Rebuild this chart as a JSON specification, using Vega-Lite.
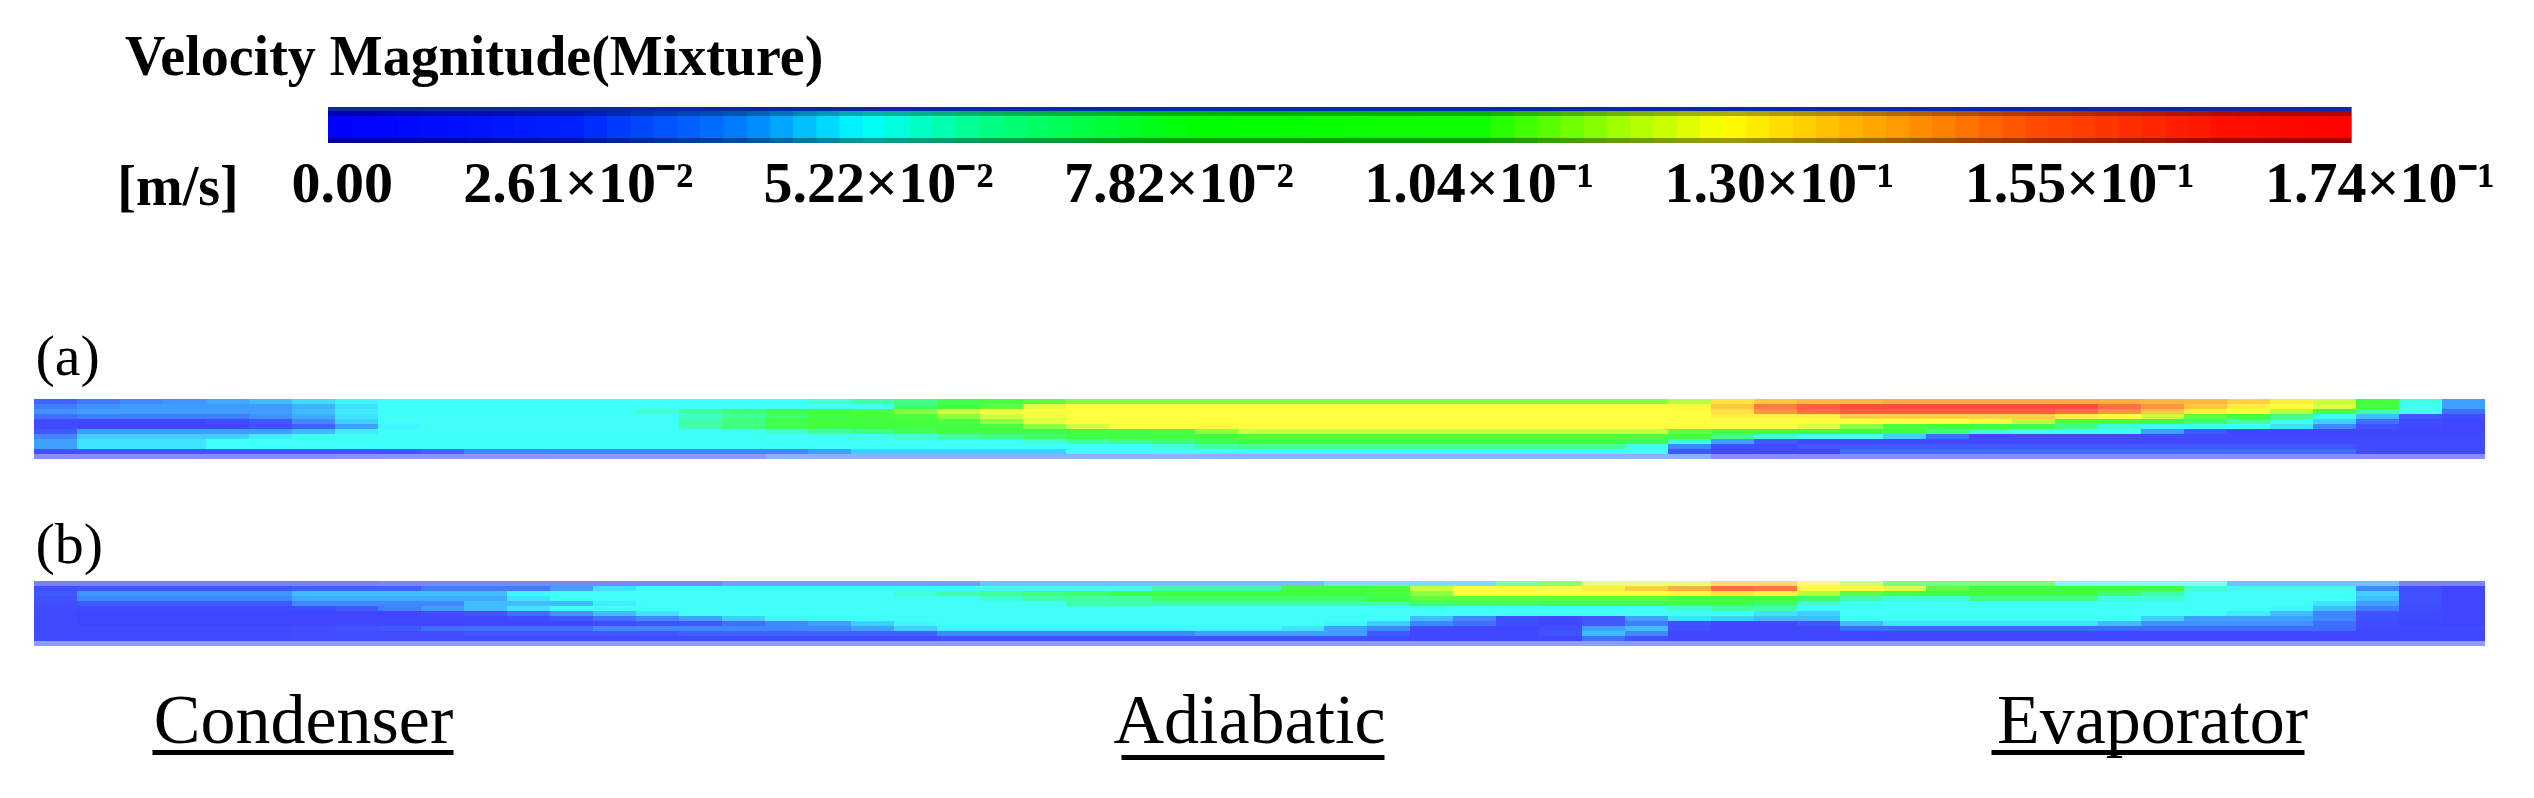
{
"$schema":"https://vega.github.io/schema/vega-lite/v6.json",
"width":2534,"height":798,"autosize":"none","padding":0,"background":"white",
"config":{"view":{"stroke":null},"text":{"font":"Liberation Serif","color":"black"}},
"datasets":{
"cb":[{"a":0},{"a":2},{"a":4},{"a":6},{"a":8},{"a":10},{"a":12},{"a":14},{"a":16},{"a":18},{"a":20},{"a":22},{"a":24},{"a":26},{"a":28},{"a":30},{"a":32},{"a":34},{"a":36},{"a":38},{"a":40},{"a":42},{"a":44},{"a":46},{"a":48},{"a":50},{"a":52},{"a":54},{"a":56},{"a":58},{"a":60},{"a":62},{"a":64},{"a":66},{"a":68},{"a":70},{"a":72},{"a":74},{"a":76},{"a":78},{"a":80},{"a":82},{"a":84},{"a":86},{"a":88},{"a":90},{"a":92},{"a":94},{"a":96},{"a":98},{"a":100},{"a":102},{"a":104},{"a":106},{"a":108},{"a":110},{"a":112},{"a":114},{"a":116},{"a":118},{"a":120},{"a":122},{"a":124},{"a":126},{"a":128},{"a":130},{"a":132},{"a":134},{"a":136},{"a":138},{"a":140},{"a":142},{"a":144},{"a":146},{"a":148},{"a":150},{"a":152},{"a":154},{"a":156},{"a":158},{"a":160},{"a":162},{"a":164},{"a":166},{"a":168},{"a":170},{"a":172}],
"pa":[
{"c":0,"r":0,"v":22},{"c":1,"r":0,"v":27},{"c":2,"r":0,"v":30},{"c":3,"r":0,"v":33},{"c":4,"r":0,"v":36},{"c":5,"r":0,"v":38},{"c":6,"r":0,"v":41},{"c":7,"r":0,"v":44},{"c":8,"r":0,"v":45},{"c":9,"r":0,"v":45},{"c":10,"r":0,"v":45},{"c":11,"r":0,"v":45},{"c":12,"r":0,"v":45},{"c":13,"r":0,"v":45},{"c":14,"r":0,"v":45},{"c":15,"r":0,"v":45},{"c":16,"r":0,"v":45},{"c":17,"r":0,"v":45},{"c":18,"r":0,"v":50},{"c":19,"r":0,"v":55},{"c":20,"r":0,"v":60},{"c":21,"r":0,"v":70},{"c":22,"r":0,"v":85},{"c":23,"r":0,"v":100},{"c":24,"r":0,"v":104},{"c":25,"r":0,"v":104},{"c":26,"r":0,"v":104},{"c":27,"r":0,"v":104},{"c":28,"r":0,"v":104},{"c":29,"r":0,"v":104},{"c":30,"r":0,"v":104},{"c":31,"r":0,"v":104},{"c":32,"r":0,"v":104},{"c":33,"r":0,"v":104},{"c":34,"r":0,"v":104},{"c":35,"r":0,"v":104},{"c":36,"r":0,"v":104},{"c":37,"r":0,"v":104},{"c":38,"r":0,"v":110},{"c":39,"r":0,"v":125},{"c":40,"r":0,"v":130},{"c":41,"r":0,"v":133},{"c":42,"r":0,"v":134},{"c":43,"r":0,"v":136},{"c":44,"r":0,"v":136},{"c":45,"r":0,"v":136},{"c":46,"r":0,"v":136},{"c":47,"r":0,"v":136},{"c":48,"r":0,"v":135},{"c":49,"r":0,"v":134},{"c":50,"r":0,"v":133},{"c":51,"r":0,"v":128},{"c":52,"r":0,"v":122},{"c":53,"r":0,"v":112},{"c":54,"r":0,"v":80},{"c":55,"r":0,"v":48},{"c":56,"r":0,"v":35},
{"c":0,"r":1,"v":28},{"c":1,"r":1,"v":32},{"c":2,"r":1,"v":34},{"c":3,"r":1,"v":34},{"c":4,"r":1,"v":34},{"c":5,"r":1,"v":34},{"c":6,"r":1,"v":37},{"c":7,"r":1,"v":42},{"c":8,"r":1,"v":46},{"c":9,"r":1,"v":46},{"c":10,"r":1,"v":46},{"c":11,"r":1,"v":46},{"c":12,"r":1,"v":46},{"c":13,"r":1,"v":46},{"c":14,"r":1,"v":46},{"c":15,"r":1,"v":46},{"c":16,"r":1,"v":46},{"c":17,"r":1,"v":46},{"c":18,"r":1,"v":46},{"c":19,"r":1,"v":46},{"c":20,"r":1,"v":65},{"c":21,"r":1,"v":80},{"c":22,"r":1,"v":100},{"c":23,"r":1,"v":115},{"c":24,"r":1,"v":119},{"c":25,"r":1,"v":119},{"c":26,"r":1,"v":119},{"c":27,"r":1,"v":119},{"c":28,"r":1,"v":119},{"c":29,"r":1,"v":119},{"c":30,"r":1,"v":119},{"c":31,"r":1,"v":119},{"c":32,"r":1,"v":119},{"c":33,"r":1,"v":119},{"c":34,"r":1,"v":119},{"c":35,"r":1,"v":119},{"c":36,"r":1,"v":119},{"c":37,"r":1,"v":119},{"c":38,"r":1,"v":120},{"c":39,"r":1,"v":130},{"c":40,"r":1,"v":145},{"c":41,"r":1,"v":155},{"c":42,"r":1,"v":162},{"c":43,"r":1,"v":162},{"c":44,"r":1,"v":162},{"c":45,"r":1,"v":162},{"c":46,"r":1,"v":162},{"c":47,"r":1,"v":162},{"c":48,"r":1,"v":150},{"c":49,"r":1,"v":140},{"c":50,"r":1,"v":130},{"c":51,"r":1,"v":122},{"c":52,"r":1,"v":119},{"c":53,"r":1,"v":115},{"c":54,"r":1,"v":80},{"c":55,"r":1,"v":46},{"c":56,"r":1,"v":35},
{"c":0,"r":2,"v":32},{"c":1,"r":2,"v":35},{"c":2,"r":2,"v":35},{"c":3,"r":2,"v":35},{"c":4,"r":2,"v":35},{"c":5,"r":2,"v":35},{"c":6,"r":2,"v":38},{"c":7,"r":2,"v":43},{"c":8,"r":2,"v":46},{"c":9,"r":2,"v":46},{"c":10,"r":2,"v":46},{"c":11,"r":2,"v":46},{"c":12,"r":2,"v":46},{"c":13,"r":2,"v":46},{"c":14,"r":2,"v":50},{"c":15,"r":2,"v":56},{"c":16,"r":2,"v":63},{"c":17,"r":2,"v":70},{"c":18,"r":2,"v":78},{"c":19,"r":2,"v":90},{"c":20,"r":2,"v":104},{"c":21,"r":2,"v":112},{"c":22,"r":2,"v":117},{"c":23,"r":2,"v":119},{"c":24,"r":2,"v":119},{"c":25,"r":2,"v":119},{"c":26,"r":2,"v":119},{"c":27,"r":2,"v":119},{"c":28,"r":2,"v":119},{"c":29,"r":2,"v":119},{"c":30,"r":2,"v":119},{"c":31,"r":2,"v":119},{"c":32,"r":2,"v":119},{"c":33,"r":2,"v":119},{"c":34,"r":2,"v":119},{"c":35,"r":2,"v":119},{"c":36,"r":2,"v":119},{"c":37,"r":2,"v":119},{"c":38,"r":2,"v":119},{"c":39,"r":2,"v":125},{"c":40,"r":2,"v":140},{"c":41,"r":2,"v":150},{"c":42,"r":2,"v":155},{"c":43,"r":2,"v":155},{"c":44,"r":2,"v":155},{"c":45,"r":2,"v":155},{"c":46,"r":2,"v":155},{"c":47,"r":2,"v":150},{"c":48,"r":2,"v":140},{"c":49,"r":2,"v":130},{"c":50,"r":2,"v":122},{"c":51,"r":2,"v":119},{"c":52,"r":2,"v":110},{"c":53,"r":2,"v":90},{"c":54,"r":2,"v":55},{"c":55,"r":2,"v":45},{"c":56,"r":2,"v":25},
{"c":0,"r":3,"v":25},{"c":1,"r":3,"v":28},{"c":2,"r":3,"v":28},{"c":3,"r":3,"v":28},{"c":4,"r":3,"v":28},{"c":5,"r":3,"v":32},{"c":6,"r":3,"v":36},{"c":7,"r":3,"v":42},{"c":8,"r":3,"v":46},{"c":9,"r":3,"v":46},{"c":10,"r":3,"v":46},{"c":11,"r":3,"v":46},{"c":12,"r":3,"v":46},{"c":13,"r":3,"v":46},{"c":14,"r":3,"v":46},{"c":15,"r":3,"v":52},{"c":16,"r":3,"v":58},{"c":17,"r":3,"v":65},{"c":18,"r":3,"v":72},{"c":19,"r":3,"v":82},{"c":20,"r":3,"v":95},{"c":21,"r":3,"v":105},{"c":22,"r":3,"v":113},{"c":23,"r":3,"v":117},{"c":24,"r":3,"v":119},{"c":25,"r":3,"v":119},{"c":26,"r":3,"v":119},{"c":27,"r":3,"v":119},{"c":28,"r":3,"v":119},{"c":29,"r":3,"v":119},{"c":30,"r":3,"v":119},{"c":31,"r":3,"v":119},{"c":32,"r":3,"v":119},{"c":33,"r":3,"v":119},{"c":34,"r":3,"v":119},{"c":35,"r":3,"v":119},{"c":36,"r":3,"v":119},{"c":37,"r":3,"v":119},{"c":38,"r":3,"v":119},{"c":39,"r":3,"v":122},{"c":40,"r":3,"v":122},{"c":41,"r":3,"v":122},{"c":42,"r":3,"v":128},{"c":43,"r":3,"v":128},{"c":44,"r":3,"v":128},{"c":45,"r":3,"v":128},{"c":46,"r":3,"v":128},{"c":47,"r":3,"v":122},{"c":48,"r":3,"v":119},{"c":49,"r":3,"v":112},{"c":50,"r":3,"v":100},{"c":51,"r":3,"v":80},{"c":52,"r":3,"v":60},{"c":53,"r":3,"v":47},{"c":54,"r":3,"v":38},{"c":55,"r":3,"v":20},{"c":56,"r":3,"v":10},
{"c":0,"r":4,"v":8},{"c":1,"r":4,"v":5},{"c":2,"r":4,"v":5},{"c":3,"r":4,"v":5},{"c":4,"r":4,"v":10},{"c":5,"r":4,"v":20},{"c":6,"r":4,"v":30},{"c":7,"r":4,"v":40},{"c":8,"r":4,"v":45},{"c":9,"r":4,"v":46},{"c":10,"r":4,"v":46},{"c":11,"r":4,"v":46},{"c":12,"r":4,"v":46},{"c":13,"r":4,"v":46},{"c":14,"r":4,"v":46},{"c":15,"r":4,"v":55},{"c":16,"r":4,"v":62},{"c":17,"r":4,"v":72},{"c":18,"r":4,"v":76},{"c":19,"r":4,"v":76},{"c":20,"r":4,"v":76},{"c":21,"r":4,"v":90},{"c":22,"r":4,"v":105},{"c":23,"r":4,"v":115},{"c":24,"r":4,"v":119},{"c":25,"r":4,"v":119},{"c":26,"r":4,"v":119},{"c":27,"r":4,"v":119},{"c":28,"r":4,"v":119},{"c":29,"r":4,"v":119},{"c":30,"r":4,"v":119},{"c":31,"r":4,"v":119},{"c":32,"r":4,"v":119},{"c":33,"r":4,"v":119},{"c":34,"r":4,"v":119},{"c":35,"r":4,"v":119},{"c":36,"r":4,"v":119},{"c":37,"r":4,"v":119},{"c":38,"r":4,"v":119},{"c":39,"r":4,"v":119},{"c":40,"r":4,"v":119},{"c":41,"r":4,"v":119},{"c":42,"r":4,"v":119},{"c":43,"r":4,"v":119},{"c":44,"r":4,"v":119},{"c":45,"r":4,"v":117},{"c":46,"r":4,"v":110},{"c":47,"r":4,"v":98},{"c":48,"r":4,"v":85},{"c":49,"r":4,"v":75},{"c":50,"r":4,"v":65},{"c":51,"r":4,"v":55},{"c":52,"r":4,"v":46},{"c":53,"r":4,"v":40},{"c":54,"r":4,"v":25},{"c":55,"r":4,"v":10},{"c":56,"r":4,"v":5},
{"c":0,"r":5,"v":10},{"c":1,"r":5,"v":5},{"c":2,"r":5,"v":5},{"c":3,"r":5,"v":5},{"c":4,"r":5,"v":5},{"c":5,"r":5,"v":12},{"c":6,"r":5,"v":22},{"c":7,"r":5,"v":35},{"c":8,"r":5,"v":44},{"c":9,"r":5,"v":46},{"c":10,"r":5,"v":46},{"c":11,"r":5,"v":46},{"c":12,"r":5,"v":46},{"c":13,"r":5,"v":46},{"c":14,"r":5,"v":46},{"c":15,"r":5,"v":54},{"c":16,"r":5,"v":60},{"c":17,"r":5,"v":68},{"c":18,"r":5,"v":75},{"c":19,"r":5,"v":75},{"c":20,"r":5,"v":75},{"c":21,"r":5,"v":75},{"c":22,"r":5,"v":90},{"c":23,"r":5,"v":105},{"c":24,"r":5,"v":113},{"c":25,"r":5,"v":119},{"c":26,"r":5,"v":119},{"c":27,"r":5,"v":119},{"c":28,"r":5,"v":119},{"c":29,"r":5,"v":119},{"c":30,"r":5,"v":119},{"c":31,"r":5,"v":119},{"c":32,"r":5,"v":119},{"c":33,"r":5,"v":119},{"c":34,"r":5,"v":119},{"c":35,"r":5,"v":119},{"c":36,"r":5,"v":119},{"c":37,"r":5,"v":119},{"c":38,"r":5,"v":119},{"c":39,"r":5,"v":119},{"c":40,"r":5,"v":119},{"c":41,"r":5,"v":115},{"c":42,"r":5,"v":105},{"c":43,"r":5,"v":90},{"c":44,"r":5,"v":78},{"c":45,"r":5,"v":74},{"c":46,"r":5,"v":70},{"c":47,"r":5,"v":60},{"c":48,"r":5,"v":50},{"c":49,"r":5,"v":46},{"c":50,"r":5,"v":46},{"c":51,"r":5,"v":46},{"c":52,"r":5,"v":42},{"c":53,"r":5,"v":30},{"c":54,"r":5,"v":15},{"c":55,"r":5,"v":8},{"c":56,"r":5,"v":5},
{"c":0,"r":6,"v":20},{"c":1,"r":6,"v":35},{"c":2,"r":6,"v":35},{"c":3,"r":6,"v":35},{"c":4,"r":6,"v":35},{"c":5,"r":6,"v":35},{"c":6,"r":6,"v":38},{"c":7,"r":6,"v":43},{"c":8,"r":6,"v":46},{"c":9,"r":6,"v":46},{"c":10,"r":6,"v":46},{"c":11,"r":6,"v":46},{"c":12,"r":6,"v":46},{"c":13,"r":6,"v":46},{"c":14,"r":6,"v":46},{"c":15,"r":6,"v":46},{"c":16,"r":6,"v":46},{"c":17,"r":6,"v":50},{"c":18,"r":6,"v":56},{"c":19,"r":6,"v":62},{"c":20,"r":6,"v":68},{"c":21,"r":6,"v":75},{"c":22,"r":6,"v":75},{"c":23,"r":6,"v":75},{"c":24,"r":6,"v":75},{"c":25,"r":6,"v":75},{"c":26,"r":6,"v":90},{"c":27,"r":6,"v":105},{"c":28,"r":6,"v":112},{"c":29,"r":6,"v":112},{"c":30,"r":6,"v":112},{"c":31,"r":6,"v":112},{"c":32,"r":6,"v":112},{"c":33,"r":6,"v":112},{"c":34,"r":6,"v":112},{"c":35,"r":6,"v":112},{"c":36,"r":6,"v":112},{"c":37,"r":6,"v":112},{"c":38,"r":6,"v":100},{"c":39,"r":6,"v":85},{"c":40,"r":6,"v":75},{"c":41,"r":6,"v":75},{"c":42,"r":6,"v":75},{"c":43,"r":6,"v":75},{"c":44,"r":6,"v":62},{"c":45,"r":6,"v":50},{"c":46,"r":6,"v":46},{"c":47,"r":6,"v":46},{"c":48,"r":6,"v":46},{"c":49,"r":6,"v":35},{"c":50,"r":6,"v":20},{"c":51,"r":6,"v":6},{"c":52,"r":6,"v":6},{"c":53,"r":6,"v":6},{"c":54,"r":6,"v":6},{"c":55,"r":6,"v":6},{"c":56,"r":6,"v":6},
{"c":0,"r":7,"v":30},{"c":1,"r":7,"v":40},{"c":2,"r":7,"v":40},{"c":3,"r":7,"v":40},{"c":4,"r":7,"v":40},{"c":5,"r":7,"v":43},{"c":6,"r":7,"v":46},{"c":7,"r":7,"v":46},{"c":8,"r":7,"v":46},{"c":9,"r":7,"v":46},{"c":10,"r":7,"v":46},{"c":11,"r":7,"v":46},{"c":12,"r":7,"v":46},{"c":13,"r":7,"v":46},{"c":14,"r":7,"v":46},{"c":15,"r":7,"v":46},{"c":16,"r":7,"v":46},{"c":17,"r":7,"v":46},{"c":18,"r":7,"v":46},{"c":19,"r":7,"v":46},{"c":20,"r":7,"v":50},{"c":21,"r":7,"v":56},{"c":22,"r":7,"v":60},{"c":23,"r":7,"v":66},{"c":24,"r":7,"v":72},{"c":25,"r":7,"v":76},{"c":26,"r":7,"v":76},{"c":27,"r":7,"v":76},{"c":28,"r":7,"v":90},{"c":29,"r":7,"v":90},{"c":30,"r":7,"v":90},{"c":31,"r":7,"v":90},{"c":32,"r":7,"v":90},{"c":33,"r":7,"v":90},{"c":34,"r":7,"v":90},{"c":35,"r":7,"v":90},{"c":36,"r":7,"v":90},{"c":37,"r":7,"v":90},{"c":38,"r":7,"v":75},{"c":39,"r":7,"v":60},{"c":40,"r":7,"v":50},{"c":41,"r":7,"v":46},{"c":42,"r":7,"v":46},{"c":43,"r":7,"v":40},{"c":44,"r":7,"v":25},{"c":45,"r":7,"v":8},{"c":46,"r":7,"v":8},{"c":47,"r":7,"v":8},{"c":48,"r":7,"v":8},{"c":49,"r":7,"v":8},{"c":50,"r":7,"v":8},{"c":51,"r":7,"v":8},{"c":52,"r":7,"v":8},{"c":53,"r":7,"v":8},{"c":54,"r":7,"v":8},{"c":55,"r":7,"v":8},{"c":56,"r":7,"v":8},
{"c":0,"r":8,"v":35},{"c":1,"r":8,"v":42},{"c":2,"r":8,"v":42},{"c":3,"r":8,"v":42},{"c":4,"r":8,"v":46},{"c":5,"r":8,"v":46},{"c":6,"r":8,"v":46},{"c":7,"r":8,"v":46},{"c":8,"r":8,"v":46},{"c":9,"r":8,"v":46},{"c":10,"r":8,"v":46},{"c":11,"r":8,"v":46},{"c":12,"r":8,"v":46},{"c":13,"r":8,"v":46},{"c":14,"r":8,"v":46},{"c":15,"r":8,"v":46},{"c":16,"r":8,"v":46},{"c":17,"r":8,"v":46},{"c":18,"r":8,"v":46},{"c":19,"r":8,"v":46},{"c":20,"r":8,"v":46},{"c":21,"r":8,"v":46},{"c":22,"r":8,"v":46},{"c":23,"r":8,"v":50},{"c":24,"r":8,"v":55},{"c":25,"r":8,"v":60},{"c":26,"r":8,"v":65},{"c":27,"r":8,"v":70},{"c":28,"r":8,"v":75},{"c":29,"r":8,"v":75},{"c":30,"r":8,"v":75},{"c":31,"r":8,"v":75},{"c":32,"r":8,"v":75},{"c":33,"r":8,"v":75},{"c":34,"r":8,"v":75},{"c":35,"r":8,"v":75},{"c":36,"r":8,"v":75},{"c":37,"r":8,"v":70},{"c":38,"r":8,"v":50},{"c":39,"r":8,"v":35},{"c":40,"r":8,"v":20},{"c":41,"r":8,"v":8},{"c":42,"r":8,"v":8},{"c":43,"r":8,"v":8},{"c":44,"r":8,"v":8},{"c":45,"r":8,"v":8},{"c":46,"r":8,"v":8},{"c":47,"r":8,"v":8},{"c":48,"r":8,"v":8},{"c":49,"r":8,"v":8},{"c":50,"r":8,"v":8},{"c":51,"r":8,"v":8},{"c":52,"r":8,"v":8},{"c":53,"r":8,"v":8},{"c":54,"r":8,"v":8},{"c":55,"r":8,"v":8},{"c":56,"r":8,"v":8},
{"c":0,"r":9,"v":35},{"c":1,"r":9,"v":42},{"c":2,"r":9,"v":42},{"c":3,"r":9,"v":42},{"c":4,"r":9,"v":45},{"c":5,"r":9,"v":45},{"c":6,"r":9,"v":45},{"c":7,"r":9,"v":45},{"c":8,"r":9,"v":45},{"c":9,"r":9,"v":45},{"c":10,"r":9,"v":45},{"c":11,"r":9,"v":45},{"c":12,"r":9,"v":45},{"c":13,"r":9,"v":45},{"c":14,"r":9,"v":45},{"c":15,"r":9,"v":45},{"c":16,"r":9,"v":45},{"c":17,"r":9,"v":45},{"c":18,"r":9,"v":45},{"c":19,"r":9,"v":45},{"c":20,"r":9,"v":45},{"c":21,"r":9,"v":45},{"c":22,"r":9,"v":45},{"c":23,"r":9,"v":45},{"c":24,"r":9,"v":45},{"c":25,"r":9,"v":45},{"c":26,"r":9,"v":50},{"c":27,"r":9,"v":55},{"c":28,"r":9,"v":58},{"c":29,"r":9,"v":58},{"c":30,"r":9,"v":58},{"c":31,"r":9,"v":58},{"c":32,"r":9,"v":58},{"c":33,"r":9,"v":58},{"c":34,"r":9,"v":58},{"c":35,"r":9,"v":58},{"c":36,"r":9,"v":58},{"c":37,"r":9,"v":48},{"c":38,"r":9,"v":30},{"c":39,"r":9,"v":15},{"c":40,"r":9,"v":10},{"c":41,"r":9,"v":20},{"c":42,"r":9,"v":20},{"c":43,"r":9,"v":20},{"c":44,"r":9,"v":20},{"c":45,"r":9,"v":20},{"c":46,"r":9,"v":20},{"c":47,"r":9,"v":20},{"c":48,"r":9,"v":20},{"c":49,"r":9,"v":20},{"c":50,"r":9,"v":20},{"c":51,"r":9,"v":20},{"c":52,"r":9,"v":20},{"c":53,"r":9,"v":20},{"c":54,"r":9,"v":8},{"c":55,"r":9,"v":8},{"c":56,"r":9,"v":8},
{"c":0,"r":10,"v":15},{"c":1,"r":10,"v":18},{"c":2,"r":10,"v":18},{"c":3,"r":10,"v":18},{"c":4,"r":10,"v":18},{"c":5,"r":10,"v":18},{"c":6,"r":10,"v":18},{"c":7,"r":10,"v":18},{"c":8,"r":10,"v":18},{"c":9,"r":10,"v":22},{"c":10,"r":10,"v":30},{"c":11,"r":10,"v":30},{"c":12,"r":10,"v":30},{"c":13,"r":10,"v":30},{"c":14,"r":10,"v":30},{"c":15,"r":10,"v":30},{"c":16,"r":10,"v":30},{"c":17,"r":10,"v":30},{"c":18,"r":10,"v":35},{"c":19,"r":10,"v":40},{"c":20,"r":10,"v":40},{"c":21,"r":10,"v":40},{"c":22,"r":10,"v":40},{"c":23,"r":10,"v":40},{"c":24,"r":10,"v":45},{"c":25,"r":10,"v":45},{"c":26,"r":10,"v":45},{"c":27,"r":10,"v":45},{"c":28,"r":10,"v":45},{"c":29,"r":10,"v":45},{"c":30,"r":10,"v":45},{"c":31,"r":10,"v":45},{"c":32,"r":10,"v":45},{"c":33,"r":10,"v":45},{"c":34,"r":10,"v":45},{"c":35,"r":10,"v":45},{"c":36,"r":10,"v":45},{"c":37,"r":10,"v":45},{"c":38,"r":10,"v":20},{"c":39,"r":10,"v":6},{"c":40,"r":10,"v":6},{"c":41,"r":10,"v":6},{"c":42,"r":10,"v":25},{"c":43,"r":10,"v":25},{"c":44,"r":10,"v":25},{"c":45,"r":10,"v":25},{"c":46,"r":10,"v":25},{"c":47,"r":10,"v":25},{"c":48,"r":10,"v":25},{"c":49,"r":10,"v":25},{"c":50,"r":10,"v":25},{"c":51,"r":10,"v":25},{"c":52,"r":10,"v":25},{"c":53,"r":10,"v":25},{"c":54,"r":10,"v":10},{"c":55,"r":10,"v":10},{"c":56,"r":10,"v":10},
{"c":0,"r":11,"v":5},{"c":1,"r":11,"v":5},{"c":2,"r":11,"v":5},{"c":3,"r":11,"v":5},{"c":4,"r":11,"v":5},{"c":5,"r":11,"v":5},{"c":6,"r":11,"v":5},{"c":7,"r":11,"v":10},{"c":8,"r":11,"v":15},{"c":9,"r":11,"v":15},{"c":10,"r":11,"v":15},{"c":11,"r":11,"v":15},{"c":12,"r":11,"v":20},{"c":13,"r":11,"v":20},{"c":14,"r":11,"v":20},{"c":15,"r":11,"v":20},{"c":16,"r":11,"v":20},{"c":17,"r":11,"v":28},{"c":18,"r":11,"v":28},{"c":19,"r":11,"v":28},{"c":20,"r":11,"v":28},{"c":21,"r":11,"v":28},{"c":22,"r":11,"v":28},{"c":23,"r":11,"v":28},{"c":24,"r":11,"v":28},{"c":25,"r":11,"v":28},{"c":26,"r":11,"v":28},{"c":27,"r":11,"v":28},{"c":28,"r":11,"v":28},{"c":29,"r":11,"v":28},{"c":30,"r":11,"v":28},{"c":31,"r":11,"v":28},{"c":32,"r":11,"v":28},{"c":33,"r":11,"v":28},{"c":34,"r":11,"v":28},{"c":35,"r":11,"v":28},{"c":36,"r":11,"v":28},{"c":37,"r":11,"v":28},{"c":38,"r":11,"v":28},{"c":39,"r":11,"v":5},{"c":40,"r":11,"v":5},{"c":41,"r":11,"v":5},{"c":42,"r":11,"v":5},{"c":43,"r":11,"v":5},{"c":44,"r":11,"v":5},{"c":45,"r":11,"v":5},{"c":46,"r":11,"v":5},{"c":47,"r":11,"v":5},{"c":48,"r":11,"v":5},{"c":49,"r":11,"v":5},{"c":50,"r":11,"v":5},{"c":51,"r":11,"v":5},{"c":52,"r":11,"v":5},{"c":53,"r":11,"v":5},{"c":54,"r":11,"v":5},{"c":55,"r":11,"v":5},{"c":56,"r":11,"v":5}
],
"pb":[
{"c":0,"r":0,"v":8},{"c":1,"r":0,"v":8},{"c":2,"r":0,"v":8},{"c":3,"r":0,"v":8},{"c":4,"r":0,"v":8},{"c":5,"r":0,"v":8},{"c":6,"r":0,"v":8},{"c":7,"r":0,"v":8},{"c":8,"r":0,"v":15},{"c":9,"r":0,"v":15},{"c":10,"r":0,"v":15},{"c":11,"r":0,"v":15},{"c":12,"r":0,"v":15},{"c":13,"r":0,"v":15},{"c":14,"r":0,"v":15},{"c":15,"r":0,"v":15},{"c":16,"r":0,"v":25},{"c":17,"r":0,"v":25},{"c":18,"r":0,"v":25},{"c":19,"r":0,"v":25},{"c":20,"r":0,"v":25},{"c":21,"r":0,"v":25},{"c":22,"r":0,"v":35},{"c":23,"r":0,"v":35},{"c":24,"r":0,"v":35},{"c":25,"r":0,"v":35},{"c":26,"r":0,"v":35},{"c":27,"r":0,"v":35},{"c":28,"r":0,"v":35},{"c":29,"r":0,"v":35},{"c":30,"r":0,"v":40},{"c":31,"r":0,"v":40},{"c":32,"r":0,"v":40},{"c":33,"r":0,"v":40},{"c":34,"r":0,"v":60},{"c":35,"r":0,"v":100},{"c":36,"r":0,"v":115},{"c":37,"r":0,"v":115},{"c":38,"r":0,"v":115},{"c":39,"r":0,"v":130},{"c":40,"r":0,"v":130},{"c":41,"r":0,"v":120},{"c":42,"r":0,"v":110},{"c":43,"r":0,"v":70},{"c":44,"r":0,"v":70},{"c":45,"r":0,"v":70},{"c":46,"r":0,"v":70},{"c":47,"r":0,"v":45},{"c":48,"r":0,"v":45},{"c":49,"r":0,"v":45},{"c":50,"r":0,"v":45},{"c":51,"r":0,"v":35},{"c":52,"r":0,"v":35},{"c":53,"r":0,"v":35},{"c":54,"r":0,"v":35},{"c":55,"r":0,"v":10},{"c":56,"r":0,"v":10},
{"c":0,"r":1,"v":12},{"c":1,"r":1,"v":18},{"c":2,"r":1,"v":18},{"c":3,"r":1,"v":18},{"c":4,"r":1,"v":18},{"c":5,"r":1,"v":18},{"c":6,"r":1,"v":22},{"c":7,"r":1,"v":22},{"c":8,"r":1,"v":22},{"c":9,"r":1,"v":28},{"c":10,"r":1,"v":28},{"c":11,"r":1,"v":28},{"c":12,"r":1,"v":35},{"c":13,"r":1,"v":42},{"c":14,"r":1,"v":46},{"c":15,"r":1,"v":46},{"c":16,"r":1,"v":46},{"c":17,"r":1,"v":46},{"c":18,"r":1,"v":46},{"c":19,"r":1,"v":46},{"c":20,"r":1,"v":46},{"c":21,"r":1,"v":46},{"c":22,"r":1,"v":46},{"c":23,"r":1,"v":46},{"c":24,"r":1,"v":46},{"c":25,"r":1,"v":46},{"c":26,"r":1,"v":55},{"c":27,"r":1,"v":55},{"c":28,"r":1,"v":55},{"c":29,"r":1,"v":72},{"c":30,"r":1,"v":75},{"c":31,"r":1,"v":90},{"c":32,"r":1,"v":112},{"c":33,"r":1,"v":119},{"c":34,"r":1,"v":119},{"c":35,"r":1,"v":119},{"c":36,"r":1,"v":122},{"c":37,"r":1,"v":128},{"c":38,"r":1,"v":135},{"c":39,"r":1,"v":150},{"c":40,"r":1,"v":148},{"c":41,"r":1,"v":120},{"c":42,"r":1,"v":119},{"c":43,"r":1,"v":115},{"c":44,"r":1,"v":100},{"c":45,"r":1,"v":75},{"c":46,"r":1,"v":75},{"c":47,"r":1,"v":75},{"c":48,"r":1,"v":75},{"c":49,"r":1,"v":75},{"c":50,"r":1,"v":50},{"c":51,"r":1,"v":46},{"c":52,"r":1,"v":46},{"c":53,"r":1,"v":46},{"c":54,"r":1,"v":30},{"c":55,"r":1,"v":10},{"c":56,"r":1,"v":5},
{"c":0,"r":2,"v":20},{"c":1,"r":2,"v":33},{"c":2,"r":2,"v":33},{"c":3,"r":2,"v":33},{"c":4,"r":2,"v":33},{"c":5,"r":2,"v":33},{"c":6,"r":2,"v":38},{"c":7,"r":2,"v":38},{"c":8,"r":2,"v":38},{"c":9,"r":2,"v":38},{"c":10,"r":2,"v":38},{"c":11,"r":2,"v":44},{"c":12,"r":2,"v":46},{"c":13,"r":2,"v":46},{"c":14,"r":2,"v":46},{"c":15,"r":2,"v":46},{"c":16,"r":2,"v":46},{"c":17,"r":2,"v":46},{"c":18,"r":2,"v":46},{"c":19,"r":2,"v":46},{"c":20,"r":2,"v":50},{"c":21,"r":2,"v":55},{"c":22,"r":2,"v":58},{"c":23,"r":2,"v":62},{"c":24,"r":2,"v":66},{"c":25,"r":2,"v":70},{"c":26,"r":2,"v":75},{"c":27,"r":2,"v":75},{"c":28,"r":2,"v":75},{"c":29,"r":2,"v":75},{"c":30,"r":2,"v":75},{"c":31,"r":2,"v":85},{"c":32,"r":2,"v":105},{"c":33,"r":2,"v":119},{"c":34,"r":2,"v":119},{"c":35,"r":2,"v":119},{"c":36,"r":2,"v":119},{"c":37,"r":2,"v":119},{"c":38,"r":2,"v":121},{"c":39,"r":2,"v":125},{"c":40,"r":2,"v":122},{"c":41,"r":2,"v":110},{"c":42,"r":2,"v":100},{"c":43,"r":2,"v":90},{"c":44,"r":2,"v":75},{"c":45,"r":2,"v":75},{"c":46,"r":2,"v":75},{"c":47,"r":2,"v":75},{"c":48,"r":2,"v":65},{"c":49,"r":2,"v":55},{"c":50,"r":2,"v":46},{"c":51,"r":2,"v":46},{"c":52,"r":2,"v":46},{"c":53,"r":2,"v":46},{"c":54,"r":2,"v":40},{"c":55,"r":2,"v":15},{"c":56,"r":2,"v":5},
{"c":0,"r":3,"v":15},{"c":1,"r":3,"v":30},{"c":2,"r":3,"v":30},{"c":3,"r":3,"v":30},{"c":4,"r":3,"v":30},{"c":5,"r":3,"v":30},{"c":6,"r":3,"v":36},{"c":7,"r":3,"v":36},{"c":8,"r":3,"v":36},{"c":9,"r":3,"v":36},{"c":10,"r":3,"v":36},{"c":11,"r":3,"v":42},{"c":12,"r":3,"v":46},{"c":13,"r":3,"v":46},{"c":14,"r":3,"v":46},{"c":15,"r":3,"v":46},{"c":16,"r":3,"v":46},{"c":17,"r":3,"v":46},{"c":18,"r":3,"v":46},{"c":19,"r":3,"v":46},{"c":20,"r":3,"v":46},{"c":21,"r":3,"v":46},{"c":22,"r":3,"v":50},{"c":23,"r":3,"v":55},{"c":24,"r":3,"v":55},{"c":25,"r":3,"v":55},{"c":26,"r":3,"v":65},{"c":27,"r":3,"v":65},{"c":28,"r":3,"v":65},{"c":29,"r":3,"v":65},{"c":30,"r":3,"v":65},{"c":31,"r":3,"v":75},{"c":32,"r":3,"v":100},{"c":33,"r":3,"v":100},{"c":34,"r":3,"v":100},{"c":35,"r":3,"v":100},{"c":36,"r":3,"v":100},{"c":37,"r":3,"v":100},{"c":38,"r":3,"v":90},{"c":39,"r":3,"v":80},{"c":40,"r":3,"v":75},{"c":41,"r":3,"v":65},{"c":42,"r":3,"v":55},{"c":43,"r":3,"v":50},{"c":44,"r":3,"v":50},{"c":45,"r":3,"v":60},{"c":46,"r":3,"v":60},{"c":47,"r":3,"v":60},{"c":48,"r":3,"v":50},{"c":49,"r":3,"v":50},{"c":50,"r":3,"v":46},{"c":51,"r":3,"v":46},{"c":52,"r":3,"v":46},{"c":53,"r":3,"v":46},{"c":54,"r":3,"v":38},{"c":55,"r":3,"v":15},{"c":56,"r":3,"v":5},
{"c":0,"r":4,"v":12},{"c":1,"r":4,"v":20},{"c":2,"r":4,"v":20},{"c":3,"r":4,"v":20},{"c":4,"r":4,"v":20},{"c":5,"r":4,"v":20},{"c":6,"r":4,"v":30},{"c":7,"r":4,"v":30},{"c":8,"r":4,"v":30},{"c":9,"r":4,"v":30},{"c":10,"r":4,"v":38},{"c":11,"r":4,"v":38},{"c":12,"r":4,"v":38},{"c":13,"r":4,"v":43},{"c":14,"r":4,"v":46},{"c":15,"r":4,"v":46},{"c":16,"r":4,"v":46},{"c":17,"r":4,"v":46},{"c":18,"r":4,"v":46},{"c":19,"r":4,"v":46},{"c":20,"r":4,"v":46},{"c":21,"r":4,"v":46},{"c":22,"r":4,"v":46},{"c":23,"r":4,"v":46},{"c":24,"r":4,"v":55},{"c":25,"r":4,"v":55},{"c":26,"r":4,"v":55},{"c":27,"r":4,"v":55},{"c":28,"r":4,"v":55},{"c":29,"r":4,"v":55},{"c":30,"r":4,"v":55},{"c":31,"r":4,"v":55},{"c":32,"r":4,"v":65},{"c":33,"r":4,"v":65},{"c":34,"r":4,"v":65},{"c":35,"r":4,"v":70},{"c":36,"r":4,"v":70},{"c":37,"r":4,"v":70},{"c":38,"r":4,"v":70},{"c":39,"r":4,"v":70},{"c":40,"r":4,"v":65},{"c":41,"r":4,"v":50},{"c":42,"r":4,"v":46},{"c":43,"r":4,"v":46},{"c":44,"r":4,"v":46},{"c":45,"r":4,"v":46},{"c":46,"r":4,"v":46},{"c":47,"r":4,"v":46},{"c":48,"r":4,"v":46},{"c":49,"r":4,"v":46},{"c":50,"r":4,"v":46},{"c":51,"r":4,"v":46},{"c":52,"r":4,"v":46},{"c":53,"r":4,"v":42},{"c":54,"r":4,"v":35},{"c":55,"r":4,"v":15},{"c":56,"r":4,"v":5},
{"c":0,"r":5,"v":10},{"c":1,"r":5,"v":8},{"c":2,"r":5,"v":8},{"c":3,"r":5,"v":8},{"c":4,"r":5,"v":8},{"c":5,"r":5,"v":8},{"c":6,"r":5,"v":12},{"c":7,"r":5,"v":20},{"c":8,"r":5,"v":28},{"c":9,"r":5,"v":34},{"c":10,"r":5,"v":38},{"c":11,"r":5,"v":42},{"c":12,"r":5,"v":46},{"c":13,"r":5,"v":46},{"c":14,"r":5,"v":46},{"c":15,"r":5,"v":46},{"c":16,"r":5,"v":46},{"c":17,"r":5,"v":46},{"c":18,"r":5,"v":46},{"c":19,"r":5,"v":46},{"c":20,"r":5,"v":46},{"c":21,"r":5,"v":46},{"c":22,"r":5,"v":46},{"c":23,"r":5,"v":46},{"c":24,"r":5,"v":46},{"c":25,"r":5,"v":46},{"c":26,"r":5,"v":46},{"c":27,"r":5,"v":46},{"c":28,"r":5,"v":46},{"c":29,"r":5,"v":46},{"c":30,"r":5,"v":46},{"c":31,"r":5,"v":46},{"c":32,"r":5,"v":46},{"c":33,"r":5,"v":46},{"c":34,"r":5,"v":46},{"c":35,"r":5,"v":46},{"c":36,"r":5,"v":46},{"c":37,"r":5,"v":46},{"c":38,"r":5,"v":50},{"c":39,"r":5,"v":56},{"c":40,"r":5,"v":55},{"c":41,"r":5,"v":46},{"c":42,"r":5,"v":46},{"c":43,"r":5,"v":46},{"c":44,"r":5,"v":46},{"c":45,"r":5,"v":46},{"c":46,"r":5,"v":46},{"c":47,"r":5,"v":46},{"c":48,"r":5,"v":46},{"c":49,"r":5,"v":46},{"c":50,"r":5,"v":46},{"c":51,"r":5,"v":46},{"c":52,"r":5,"v":44},{"c":53,"r":5,"v":38},{"c":54,"r":5,"v":28},{"c":55,"r":5,"v":12},{"c":56,"r":5,"v":5},
{"c":0,"r":6,"v":8},{"c":1,"r":6,"v":5},{"c":2,"r":6,"v":5},{"c":3,"r":6,"v":5},{"c":4,"r":6,"v":5},{"c":5,"r":6,"v":5},{"c":6,"r":6,"v":5},{"c":7,"r":6,"v":5},{"c":8,"r":6,"v":5},{"c":9,"r":6,"v":10},{"c":10,"r":6,"v":18},{"c":11,"r":6,"v":25},{"c":12,"r":6,"v":32},{"c":13,"r":6,"v":38},{"c":14,"r":6,"v":42},{"c":15,"r":6,"v":46},{"c":16,"r":6,"v":46},{"c":17,"r":6,"v":46},{"c":18,"r":6,"v":46},{"c":19,"r":6,"v":46},{"c":20,"r":6,"v":46},{"c":21,"r":6,"v":46},{"c":22,"r":6,"v":46},{"c":23,"r":6,"v":46},{"c":24,"r":6,"v":46},{"c":25,"r":6,"v":46},{"c":26,"r":6,"v":46},{"c":27,"r":6,"v":46},{"c":28,"r":6,"v":46},{"c":29,"r":6,"v":46},{"c":30,"r":6,"v":46},{"c":31,"r":6,"v":46},{"c":32,"r":6,"v":46},{"c":33,"r":6,"v":46},{"c":34,"r":6,"v":46},{"c":35,"r":6,"v":46},{"c":36,"r":6,"v":46},{"c":37,"r":6,"v":46},{"c":38,"r":6,"v":46},{"c":39,"r":6,"v":46},{"c":40,"r":6,"v":42},{"c":41,"r":6,"v":40},{"c":42,"r":6,"v":46},{"c":43,"r":6,"v":46},{"c":44,"r":6,"v":46},{"c":45,"r":6,"v":46},{"c":46,"r":6,"v":46},{"c":47,"r":6,"v":46},{"c":48,"r":6,"v":46},{"c":49,"r":6,"v":46},{"c":50,"r":6,"v":46},{"c":51,"r":6,"v":43},{"c":52,"r":6,"v":38},{"c":53,"r":6,"v":30},{"c":54,"r":6,"v":15},{"c":55,"r":6,"v":8},{"c":56,"r":6,"v":5},
{"c":0,"r":7,"v":8},{"c":1,"r":7,"v":5},{"c":2,"r":7,"v":5},{"c":3,"r":7,"v":5},{"c":4,"r":7,"v":5},{"c":5,"r":7,"v":5},{"c":6,"r":7,"v":5},{"c":7,"r":7,"v":5},{"c":8,"r":7,"v":5},{"c":9,"r":7,"v":5},{"c":10,"r":7,"v":5},{"c":11,"r":7,"v":10},{"c":12,"r":7,"v":18},{"c":13,"r":7,"v":25},{"c":14,"r":7,"v":30},{"c":15,"r":7,"v":35},{"c":16,"r":7,"v":40},{"c":17,"r":7,"v":44},{"c":18,"r":7,"v":46},{"c":19,"r":7,"v":46},{"c":20,"r":7,"v":46},{"c":21,"r":7,"v":46},{"c":22,"r":7,"v":46},{"c":23,"r":7,"v":46},{"c":24,"r":7,"v":46},{"c":25,"r":7,"v":46},{"c":26,"r":7,"v":46},{"c":27,"r":7,"v":46},{"c":28,"r":7,"v":46},{"c":29,"r":7,"v":46},{"c":30,"r":7,"v":46},{"c":31,"r":7,"v":45},{"c":32,"r":7,"v":38},{"c":33,"r":7,"v":30},{"c":34,"r":7,"v":15},{"c":35,"r":7,"v":8},{"c":36,"r":7,"v":20},{"c":37,"r":7,"v":35},{"c":38,"r":7,"v":42},{"c":39,"r":7,"v":40},{"c":40,"r":7,"v":38},{"c":41,"r":7,"v":38},{"c":42,"r":7,"v":46},{"c":43,"r":7,"v":46},{"c":44,"r":7,"v":46},{"c":45,"r":7,"v":46},{"c":46,"r":7,"v":46},{"c":47,"r":7,"v":46},{"c":48,"r":7,"v":46},{"c":49,"r":7,"v":40},{"c":50,"r":7,"v":35},{"c":51,"r":7,"v":35},{"c":52,"r":7,"v":35},{"c":53,"r":7,"v":30},{"c":54,"r":7,"v":15},{"c":55,"r":7,"v":8},{"c":56,"r":7,"v":5},
{"c":0,"r":8,"v":8},{"c":1,"r":8,"v":5},{"c":2,"r":8,"v":5},{"c":3,"r":8,"v":5},{"c":4,"r":8,"v":5},{"c":5,"r":8,"v":5},{"c":6,"r":8,"v":5},{"c":7,"r":8,"v":5},{"c":8,"r":8,"v":5},{"c":9,"r":8,"v":5},{"c":10,"r":8,"v":5},{"c":11,"r":8,"v":5},{"c":12,"r":8,"v":5},{"c":13,"r":8,"v":8},{"c":14,"r":8,"v":15},{"c":15,"r":8,"v":20},{"c":16,"r":8,"v":25},{"c":17,"r":8,"v":30},{"c":18,"r":8,"v":35},{"c":19,"r":8,"v":40},{"c":20,"r":8,"v":44},{"c":21,"r":8,"v":46},{"c":22,"r":8,"v":46},{"c":23,"r":8,"v":46},{"c":24,"r":8,"v":46},{"c":25,"r":8,"v":46},{"c":26,"r":8,"v":46},{"c":27,"r":8,"v":46},{"c":28,"r":8,"v":46},{"c":29,"r":8,"v":46},{"c":30,"r":8,"v":44},{"c":31,"r":8,"v":40},{"c":32,"r":8,"v":30},{"c":33,"r":8,"v":25},{"c":34,"r":8,"v":12},{"c":35,"r":8,"v":6},{"c":36,"r":8,"v":20},{"c":37,"r":8,"v":28},{"c":38,"r":8,"v":15},{"c":39,"r":8,"v":6},{"c":40,"r":8,"v":6},{"c":41,"r":8,"v":20},{"c":42,"r":8,"v":38},{"c":43,"r":8,"v":42},{"c":44,"r":8,"v":42},{"c":45,"r":8,"v":42},{"c":46,"r":8,"v":42},{"c":47,"r":8,"v":42},{"c":48,"r":8,"v":38},{"c":49,"r":8,"v":32},{"c":50,"r":8,"v":32},{"c":51,"r":8,"v":32},{"c":52,"r":8,"v":32},{"c":53,"r":8,"v":25},{"c":54,"r":8,"v":12},{"c":55,"r":8,"v":6},{"c":56,"r":8,"v":5},
{"c":0,"r":9,"v":8},{"c":1,"r":9,"v":8},{"c":2,"r":9,"v":8},{"c":3,"r":9,"v":8},{"c":4,"r":9,"v":8},{"c":5,"r":9,"v":8},{"c":6,"r":9,"v":12},{"c":7,"r":9,"v":16},{"c":8,"r":9,"v":20},{"c":9,"r":9,"v":25},{"c":10,"r":9,"v":25},{"c":11,"r":9,"v":25},{"c":12,"r":9,"v":25},{"c":13,"r":9,"v":30},{"c":14,"r":9,"v":30},{"c":15,"r":9,"v":30},{"c":16,"r":9,"v":30},{"c":17,"r":9,"v":30},{"c":18,"r":9,"v":30},{"c":19,"r":9,"v":35},{"c":20,"r":9,"v":40},{"c":21,"r":9,"v":44},{"c":22,"r":9,"v":44},{"c":23,"r":9,"v":44},{"c":24,"r":9,"v":44},{"c":25,"r":9,"v":44},{"c":26,"r":9,"v":44},{"c":27,"r":9,"v":44},{"c":28,"r":9,"v":44},{"c":29,"r":9,"v":42},{"c":30,"r":9,"v":35},{"c":31,"r":9,"v":30},{"c":32,"r":9,"v":8},{"c":33,"r":9,"v":6},{"c":34,"r":9,"v":6},{"c":35,"r":9,"v":12},{"c":36,"r":9,"v":35},{"c":37,"r":9,"v":38},{"c":38,"r":9,"v":12},{"c":39,"r":9,"v":6},{"c":40,"r":9,"v":6},{"c":41,"r":9,"v":6},{"c":42,"r":9,"v":24},{"c":43,"r":9,"v":24},{"c":44,"r":9,"v":24},{"c":45,"r":9,"v":24},{"c":46,"r":9,"v":24},{"c":47,"r":9,"v":24},{"c":48,"r":9,"v":24},{"c":49,"r":9,"v":24},{"c":50,"r":9,"v":24},{"c":51,"r":9,"v":24},{"c":52,"r":9,"v":24},{"c":53,"r":9,"v":24},{"c":54,"r":9,"v":8},{"c":55,"r":9,"v":8},{"c":56,"r":9,"v":8},
{"c":0,"r":10,"v":8},{"c":1,"r":10,"v":8},{"c":2,"r":10,"v":8},{"c":3,"r":10,"v":8},{"c":4,"r":10,"v":8},{"c":5,"r":10,"v":8},{"c":6,"r":10,"v":12},{"c":7,"r":10,"v":12},{"c":8,"r":10,"v":12},{"c":9,"r":10,"v":12},{"c":10,"r":10,"v":18},{"c":11,"r":10,"v":18},{"c":12,"r":10,"v":18},{"c":13,"r":10,"v":18},{"c":14,"r":10,"v":18},{"c":15,"r":10,"v":22},{"c":16,"r":10,"v":22},{"c":17,"r":10,"v":22},{"c":18,"r":10,"v":22},{"c":19,"r":10,"v":22},{"c":20,"r":10,"v":22},{"c":21,"r":10,"v":30},{"c":22,"r":10,"v":30},{"c":23,"r":10,"v":30},{"c":24,"r":10,"v":30},{"c":25,"r":10,"v":30},{"c":26,"r":10,"v":30},{"c":27,"r":10,"v":35},{"c":28,"r":10,"v":35},{"c":29,"r":10,"v":35},{"c":30,"r":10,"v":35},{"c":31,"r":10,"v":20},{"c":32,"r":10,"v":6},{"c":33,"r":10,"v":6},{"c":34,"r":10,"v":6},{"c":35,"r":10,"v":15},{"c":36,"r":10,"v":38},{"c":37,"r":10,"v":30},{"c":38,"r":10,"v":6},{"c":39,"r":10,"v":6},{"c":40,"r":10,"v":6},{"c":41,"r":10,"v":6},{"c":42,"r":10,"v":6},{"c":43,"r":10,"v":6},{"c":44,"r":10,"v":6},{"c":45,"r":10,"v":6},{"c":46,"r":10,"v":6},{"c":47,"r":10,"v":6},{"c":48,"r":10,"v":6},{"c":49,"r":10,"v":6},{"c":50,"r":10,"v":6},{"c":51,"r":10,"v":6},{"c":52,"r":10,"v":6},{"c":53,"r":10,"v":6},{"c":54,"r":10,"v":6},{"c":55,"r":10,"v":6},{"c":56,"r":10,"v":6},
{"c":0,"r":11,"v":10},{"c":1,"r":11,"v":10},{"c":2,"r":11,"v":10},{"c":3,"r":11,"v":10},{"c":4,"r":11,"v":10},{"c":5,"r":11,"v":10},{"c":6,"r":11,"v":10},{"c":7,"r":11,"v":10},{"c":8,"r":11,"v":10},{"c":9,"r":11,"v":10},{"c":10,"r":11,"v":10},{"c":11,"r":11,"v":10},{"c":12,"r":11,"v":10},{"c":13,"r":11,"v":10},{"c":14,"r":11,"v":10},{"c":15,"r":11,"v":10},{"c":16,"r":11,"v":10},{"c":17,"r":11,"v":10},{"c":18,"r":11,"v":10},{"c":19,"r":11,"v":10},{"c":20,"r":11,"v":10},{"c":21,"r":11,"v":15},{"c":22,"r":11,"v":15},{"c":23,"r":11,"v":15},{"c":24,"r":11,"v":15},{"c":25,"r":11,"v":15},{"c":26,"r":11,"v":15},{"c":27,"r":11,"v":15},{"c":28,"r":11,"v":15},{"c":29,"r":11,"v":15},{"c":30,"r":11,"v":15},{"c":31,"r":11,"v":10},{"c":32,"r":11,"v":6},{"c":33,"r":11,"v":6},{"c":34,"r":11,"v":6},{"c":35,"r":11,"v":6},{"c":36,"r":11,"v":25},{"c":37,"r":11,"v":15},{"c":38,"r":11,"v":6},{"c":39,"r":11,"v":6},{"c":40,"r":11,"v":6},{"c":41,"r":11,"v":6},{"c":42,"r":11,"v":6},{"c":43,"r":11,"v":6},{"c":44,"r":11,"v":6},{"c":45,"r":11,"v":6},{"c":46,"r":11,"v":6},{"c":47,"r":11,"v":6},{"c":48,"r":11,"v":6},{"c":49,"r":11,"v":6},{"c":50,"r":11,"v":6},{"c":51,"r":11,"v":6},{"c":52,"r":11,"v":6},{"c":53,"r":11,"v":6},{"c":54,"r":11,"v":6},{"c":55,"r":11,"v":6},{"c":56,"r":11,"v":6},
{"c":0,"r":12,"v":22},{"c":1,"r":12,"v":22},{"c":2,"r":12,"v":22},{"c":3,"r":12,"v":22},{"c":4,"r":12,"v":22},{"c":5,"r":12,"v":22},{"c":6,"r":12,"v":22},{"c":7,"r":12,"v":22},{"c":8,"r":12,"v":22},{"c":9,"r":12,"v":22},{"c":10,"r":12,"v":22},{"c":11,"r":12,"v":22},{"c":12,"r":12,"v":22},{"c":13,"r":12,"v":22},{"c":14,"r":12,"v":22},{"c":15,"r":12,"v":22},{"c":16,"r":12,"v":22},{"c":17,"r":12,"v":22},{"c":18,"r":12,"v":22},{"c":19,"r":12,"v":22},{"c":20,"r":12,"v":22},{"c":21,"r":12,"v":22},{"c":22,"r":12,"v":22},{"c":23,"r":12,"v":22},{"c":24,"r":12,"v":22},{"c":25,"r":12,"v":22},{"c":26,"r":12,"v":22},{"c":27,"r":12,"v":22},{"c":28,"r":12,"v":22},{"c":29,"r":12,"v":22},{"c":30,"r":12,"v":22},{"c":31,"r":12,"v":22},{"c":32,"r":12,"v":22},{"c":33,"r":12,"v":22},{"c":34,"r":12,"v":22},{"c":35,"r":12,"v":22},{"c":36,"r":12,"v":22},{"c":37,"r":12,"v":22},{"c":38,"r":12,"v":22},{"c":39,"r":12,"v":22},{"c":40,"r":12,"v":22},{"c":41,"r":12,"v":22},{"c":42,"r":12,"v":22},{"c":43,"r":12,"v":22},{"c":44,"r":12,"v":22},{"c":45,"r":12,"v":22},{"c":46,"r":12,"v":22},{"c":47,"r":12,"v":22},{"c":48,"r":12,"v":22},{"c":49,"r":12,"v":22},{"c":50,"r":12,"v":22},{"c":51,"r":12,"v":22},{"c":52,"r":12,"v":22},{"c":53,"r":12,"v":22},{"c":54,"r":12,"v":22},{"c":55,"r":12,"v":22},{"c":56,"r":12,"v":22}
]
},
"layer":[
{"layer":[
 {"data":{"name":"cb"},"mark":{"type":"rect","x2Offset":24},
  "encoding":{
   "x":{"field":"a","type":"quantitative","scale":{"domain":[0,174],"range":[328,2351],"nice":false,"zero":false},"axis":null},
   "x2":{"field":"a"},
   "y":{"datum":"bar","type":"nominal","scale":{"type":"band","domain":["bar"],"range":[107,143],"paddingInner":0,"paddingOuter":0},"axis":null},
   "color":{"field":"a","type":"quantitative","scale":{"type":"linear","interpolate":"rgb","domain":[0,20,35,45,56,73,98,110,119,133,145,162,174],"range":["#0000ff","#0020ff","#0080ff","#00ffff","#00ff80","#00ff00","#10ff00","#a0ff00","#ffff00","#ffa000","#ff5000","#ff1000","#ff0000"]},"legend":null}
  }},
 {"data":{"values":[{"k":"edge"}]},"mark":{"type":"rule","color":"#0a28a8","strokeWidth":4,"yOffset":-16},
  "encoding":{"x":{"datum":0,"type":"quantitative"},"x2":{"datum":174},"y":{"datum":"bar","type":"nominal"}}},
 {"data":{"values":[{"k":"shade"}]},"mark":{"type":"rule","color":"black","opacity":0.3,"strokeWidth":5,"yOffset":-11.5},
  "encoding":{"x":{"datum":0,"type":"quantitative"},"x2":{"datum":174},"y":{"datum":"bar","type":"nominal"}}},
 {"data":{"values":[{"k":"shade"}]},"mark":{"type":"rule","color":"black","opacity":0.38,"strokeWidth":5,"yOffset":15.5},
  "encoding":{"x":{"datum":0,"type":"quantitative"},"x2":{"datum":174},"y":{"datum":"bar","type":"nominal"}}},
 {"data":{"values":[{"t":"Velocity Magnitude(Mixture)"}]},"mark":{"type":"text","align":"left","baseline":"alphabetic","dx":-203,"dy":-50,"fontSize":56,"fontWeight":"bold"},
  "encoding":{"x":{"datum":0,"type":"quantitative"},"y":{"datum":"bar","type":"nominal"},"text":{"field":"t"}}},
 {"data":{"values":[{"t":"[m/s]"}]},"mark":{"type":"text","align":"center","baseline":"alphabetic","dx":-150,"dy":80,"fontSize":56,"fontWeight":"bold"},
  "encoding":{"x":{"datum":0,"type":"quantitative"},"y":{"datum":"bar","type":"nominal"},"text":{"field":"t"}}}
]},
{"data":{"values":[{"t":"0.00"},{"t":"2.61×10⁻²"},{"t":"5.22×10⁻²"},{"t":"7.82×10⁻²"},{"t":"1.04×10⁻¹"},{"t":"1.30×10⁻¹"},{"t":"1.55×10⁻¹"},{"t":"1.74×10⁻¹"}]},
 "mark":{"type":"text","align":"right","baseline":"alphabetic","dy":77,"fontSize":58,"fontWeight":"bold"},
 "encoding":{
  "x":{"field":"t","type":"ordinal","sort":null,"scale":{"type":"point","range":[393,2495],"padding":0},"axis":null},
  "y":{"datum":"bar","type":"nominal","scale":{"type":"band","domain":["bar"],"range":[107,143],"paddingInner":0,"paddingOuter":0},"axis":null},
  "text":{"field":"t"}}},
{"layer":[
 {"data":{"name":"pa"},"mark":{"type":"rect"},
  "encoding":{
   "x":{"field":"c","type":"ordinal","scale":{"type":"band","range":[34,2485],"paddingInner":0,"paddingOuter":0},"axis":null},
   "y":{"field":"r","type":"ordinal","scale":{"type":"band","range":[399,459],"paddingInner":0,"paddingOuter":0},"axis":null},
   "color":{"field":"v","type":"quantitative","scale":{"type":"linear","interpolate":"rgb","domain":[0,20,35,45,56,73,98,110,119,133,145,162,174],"range":["#4040ff","#4058ff","#40a0ff","#40ffff","#40ffa0","#40ff40","#4cff40","#b8ff40","#ffff40","#ffb840","#ff7c40","#ff4c40","#ff4040"]},"legend":null},
   "opacity":{"condition":{"test":"datum.r == 11","value":0.62},"value":1}
  }},
 {"data":{"values":[{"t":"(a)"}]},"mark":{"type":"text","align":"left","baseline":"alphabetic","dx":-20,"dy":-26.5,"fontSize":58},
  "encoding":{"x":{"datum":0,"type":"ordinal"},"y":{"datum":0,"type":"ordinal"},"text":{"field":"t"}}}
]},
{"layer":[
 {"data":{"name":"pb"},"mark":{"type":"rect"},
  "encoding":{
   "x":{"field":"c","type":"ordinal","scale":{"type":"band","range":[34,2485],"paddingInner":0,"paddingOuter":0},"axis":null},
   "y":{"field":"r","type":"ordinal","scale":{"type":"band","range":[581,646],"paddingInner":0,"paddingOuter":0},"axis":null},
   "color":{"field":"v","type":"quantitative","scale":{"type":"linear","interpolate":"rgb","domain":[0,20,35,45,56,73,98,110,119,133,145,162,174],"range":["#4040ff","#4058ff","#40a0ff","#40ffff","#40ffa0","#40ff40","#4cff40","#b8ff40","#ffff40","#ffb840","#ff7c40","#ff4c40","#ff4040"]},"legend":null},
   "opacity":{"condition":[{"test":"datum.r == 0","value":0.7},{"test":"datum.r == 12","value":0.62}],"value":1}
  }},
 {"data":{"values":[{"t":"(b)"}]},"mark":{"type":"text","align":"left","baseline":"alphabetic","dx":-20,"dy":-20.5,"fontSize":58},
  "encoding":{"x":{"datum":0,"type":"ordinal"},"y":{"datum":0,"type":"ordinal"},"text":{"field":"t"}}},
 {"data":{"values":[{"t":"Condenser","c":6},{"t":"Adiabatic","c":28},{"t":"Evaporator","c":49}]},"mark":{"type":"text","align":"center","baseline":"alphabetic","dx":-10,"dy":99,"fontSize":70},
  "encoding":{"x":{"field":"c","type":"ordinal"},"y":{"datum":12,"type":"ordinal"},"text":{"field":"t"}}},
 {"data":{"values":[{"t":"Condenser","c":6}]},"mark":{"type":"rule","color":"black","strokeWidth":5,"xOffset":-161,"x2Offset":140,"yOffset":109},
  "encoding":{"x":{"field":"c","type":"ordinal"},"x2":{"field":"c"},"y":{"datum":12,"type":"ordinal"}}},
 {"data":{"values":[{"t":"Adiabatic","c":28}]},"mark":{"type":"rule","color":"black","strokeWidth":5,"xOffset":-138,"x2Offset":125,"yOffset":114},
  "encoding":{"x":{"field":"c","type":"ordinal"},"x2":{"field":"c"},"y":{"datum":12,"type":"ordinal"}}},
 {"data":{"values":[{"t":"Evaporator","c":49}]},"mark":{"type":"rule","color":"black","strokeWidth":5,"xOffset":-171,"x2Offset":142,"yOffset":109},
  "encoding":{"x":{"field":"c","type":"ordinal"},"x2":{"field":"c"},"y":{"datum":12,"type":"ordinal"}}}
]}
],
"resolve":{"scale":{"x":"independent","y":"independent","color":"independent","opacity":"independent"}}
}
